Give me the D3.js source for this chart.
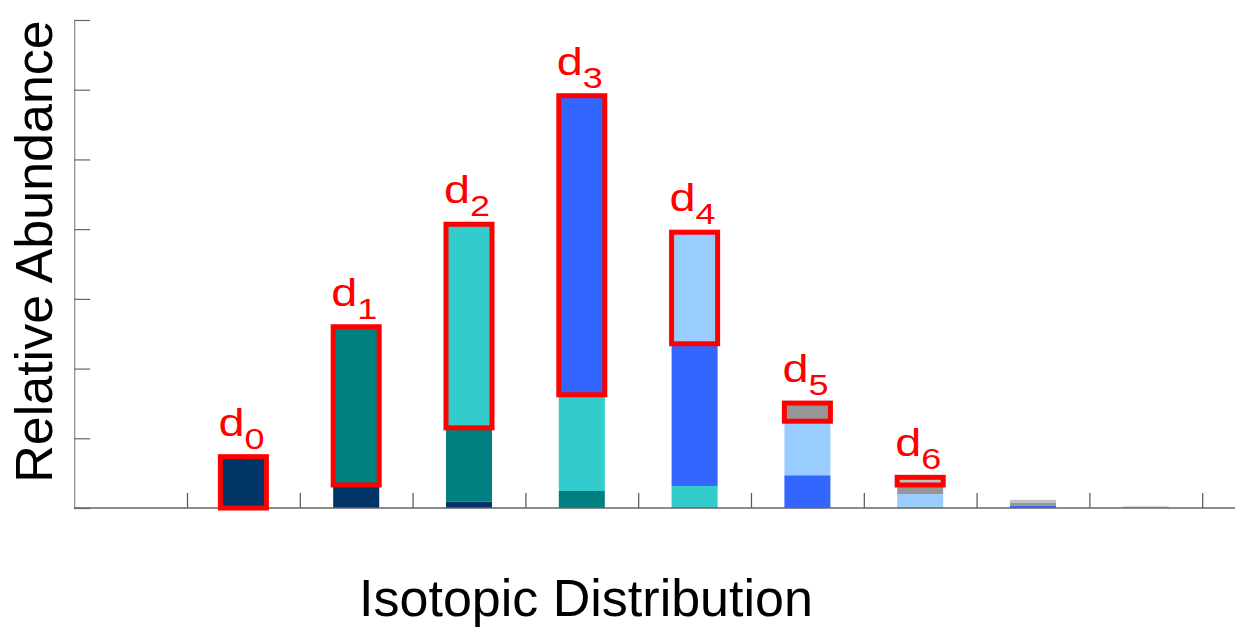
<!DOCTYPE html>
<html>
<head>
<meta charset="utf-8">
<script src="https://cdn.jsdelivr.net/npm/d3@7"></script>
<style>
  html, body { margin: 0; padding: 0; background: #ffffff; }
  svg { display: block; }
  text { font-family: "Liberation Sans", Arial, Helvetica, sans-serif; }
</style>
</head>
<body>
<svg id="chart" width="1235" height="628"></svg>
<script>
// ---------- data ----------
const positions = ["0", "1", "2", "3", "4", "5", "6", "7", "8", "9"];
const seriesNames = ["d0", "d1", "d2", "d3", "d4", "d5", "d6"];
const seriesLabelSub = ["0", "1", "2", "3", "4", "5", "6"];
const d0 = [0, 7.36, 3.3, 0.9, 0, 0, 0, 0, 0, 0];
const d1 = [0, 0, 22.7, 10.6, 2.44, 0, 0, 0, 0, 0];
const d2 = [0, 0, 0, 29.2, 13.8, 3.16, 0, 0.2, 0, 0];
const d3v = [0, 0, 0, 0, 42.9, 20.4, 4.7, 0, 0.3, 0];
const d4 = [0, 0, 0, 0, 0, 16.0, 7.75, 1.8, 0, 0];
const d5 = [0, 0, 0, 0, 0, 0, 2.6, 1.3, 0.43, 0.05];
const d6 = [0, 0, 0, 0, 0, 0, 0, 1.1, 0.43, 0.18];
const seriesColors = ["#003366", "#008080", "#33CCCC", "#3366FF", "#99CCFF", "#969696", "#C0C0C0"];
const yTicks = [0, 10, 20, 30, 40, 50, 60, 70];
const xTitle = "Isotopic Distribution";
const yTitle = "Relative Abundance";

(function () {
const seriesValues = [d0, d1, d2, d3v, d4, d5, d6];
const table = positions.map((p, i) => {
  const row = { pos: p };
  seriesNames.forEach((s, k) => { row[s] = seriesValues[k][i]; });
  return row;
});

// ---------- layout ----------
const svg = d3.select("#chart");
const W = 1235;
const mLeft = 74.2, mRight = 1202.2, mTop = 20, mBottom = 508;

const y = d3.scaleLinear().domain([0, 70]).range([mBottom, mTop]);
const x = d3.scaleBand().domain(positions).range([mLeft, mRight])
  .paddingInner(0.592).paddingOuter(0.296);
const xb = d3.scaleLinear().domain([0, positions.length]).range([mLeft, mRight]);

const stacked = d3.stack().keys(seriesNames)(table);

// bars
const gBars = svg.append("g");
stacked.forEach((layer, k) => {
  gBars.selectAll(null)
    .data(layer.filter(d => d[1] - d[0] > 0))
    .join("rect")
    .attr("x", d => x(d.data.pos))
    .attr("width", x.bandwidth())
    .attr("y", d => y(d[1]))
    .attr("height", d => y(d[0]) - y(d[1]))
    .attr("fill", seriesColors[k]);
});

// y axis
const yAxis = d3.axisRight(y).tickValues(yTicks).tickSize(16).tickSizeOuter(0).tickFormat("");
const gy = svg.append("g").attr("transform", `translate(${mLeft},0)`).call(yAxis);
gy.select(".domain").attr("stroke", "#8a8a8a").attr("stroke-width", 1.2);
gy.selectAll(".tick line").attr("stroke", "#666").attr("stroke-width", 1.2);

// x axis ticks at band boundaries
const xAxis = d3.axisTop(xb).tickValues(d3.range(1, positions.length + 1)).tickSize(15).tickSizeOuter(0).tickFormat("");
const gx = svg.append("g").attr("transform", `translate(0,${mBottom})`).call(xAxis);
gx.select(".domain").remove();
gx.selectAll(".tick line").attr("stroke", "#555").attr("stroke-width", 1.2);
svg.append("line")
  .attr("x1", mLeft).attr("x2", W)
  .attr("y1", y(0)).attr("y2", y(0))
  .attr("stroke", "#666").attr("stroke-width", 1.4);

// red highlight boxes + labels (series k highlighted at position k+1)
const gHi = svg.append("g");
stacked.forEach((layer, k) => {
  const d = layer[k + 1];
  const x0 = x(d.data.pos), bw = x.bandwidth();
  gHi.append("rect")
    .attr("x", x0).attr("width", bw)
    .attr("y", y(d[1])).attr("height", y(d[0]) - y(d[1]))
    .attr("fill", "none").attr("stroke", "#FF0000").attr("stroke-width", 5);
  const t = gHi.append("text")
    .attr("transform", `translate(${x0 + bw / 2 - 2},${y(d[1]) - 21}) scale(1.2,1)`)
    .attr("text-anchor", "middle")
    .attr("fill", "#FF0000");
  t.append("tspan").attr("font-size", 39).text("d");
  t.append("tspan").attr("font-size", 30).attr("dy", 13).text(seriesLabelSub[k]);
});

// titles
svg.append("text")
  .attr("x", 586).attr("y", 616)
  .attr("text-anchor", "middle")
  .attr("font-size", 52)
  .attr("fill", "#000")
  .text(xTitle);
svg.append("text")
  .attr("transform", "translate(51.5,251.5) rotate(-90)")
  .attr("text-anchor", "middle")
  .attr("font-size", 52)
  .attr("fill", "#000")
  .text(yTitle);
})();
</script>
</body>
</html>
